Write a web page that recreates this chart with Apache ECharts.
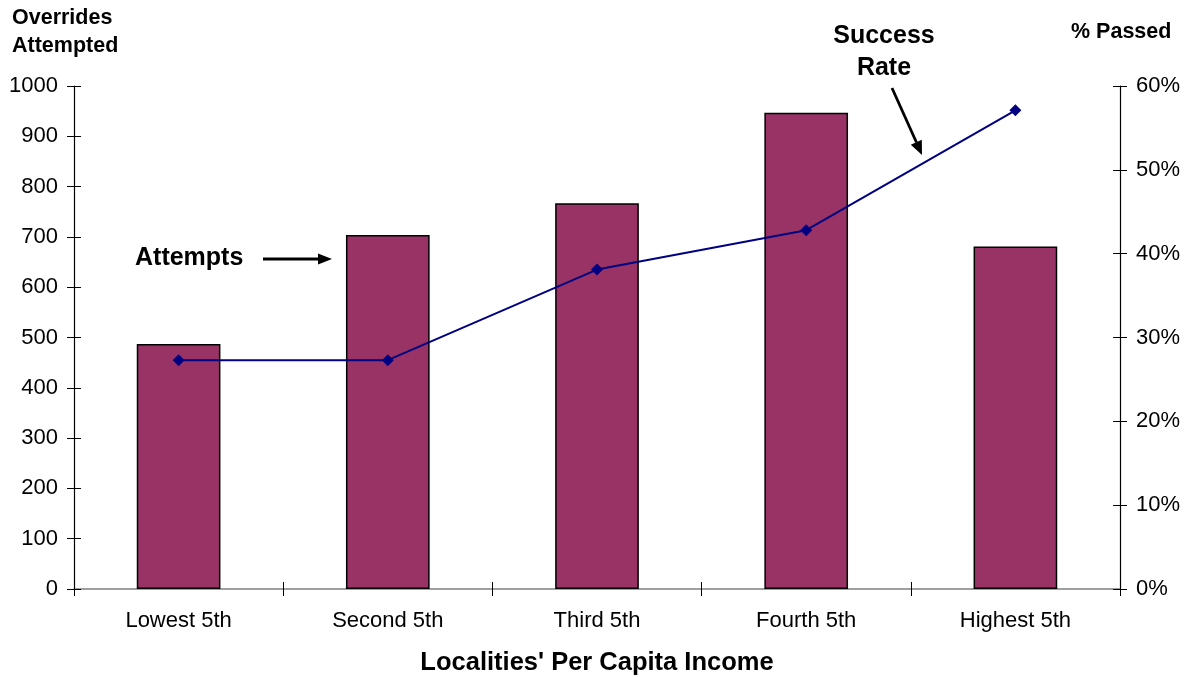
<!DOCTYPE html>
<html>
<head>
<meta charset="utf-8">
<script src="https://cdn.jsdelivr.net/npm/echarts@6/dist/echarts.min.js"></script>
<style>
  html, body { margin: 0; padding: 0; background: #fff; }
  #chart { width: 1190px; height: 677px; }
</style>
</head>
<body>
<div id="chart"></div>
<script>
// Income quintiles of localities
const categories = ['Lowest 5th', 'Second 5th', 'Third 5th', 'Fourth 5th', 'Highest 5th'];
// Overrides attempted (left axis)
const attempts = [487, 704, 767, 947, 681];
// Share of overrides that passed (right axis, fraction)
const successRate = [0.273, 0.273, 0.381, 0.428, 0.571];
// Axis tick settings
const countTicks = { min: 0, max: 1000, interval: 100 };
const rateTicks = { min: 0, max: 0.6, interval: 0.1 };

const FONT = '"Liberation Sans", Arial, Helvetica, sans-serif';
const chart = echarts.init(document.getElementById('chart'), null, { renderer: 'canvas' });

function tickStyle(inside) {
  return { show: true, inside: inside, length: 7, lineStyle: { color: '#000', width: 1 } };
}

chart.setOption({
  animation: false,
  backgroundColor: '#ffffff',
  textStyle: { fontFamily: FONT },
  grid: { left: 74, right: 70, top: 86, bottom: 88, containLabel: false, outerBoundsMode: 'none' },
  xAxis: [
    {
      type: 'category',
      data: categories,
      position: 'bottom',
      name: "Localities' Per Capita Income",
      nameLocation: 'middle',
      nameGap: 61,
      nameTextStyle: { fontSize: 25.5, fontWeight: 'bold', color: '#000', fontFamily: FONT },
      axisLine: { show: true, onZero: false, lineStyle: { color: '#808080', width: 1.5 } },
      axisTick: tickStyle(false),
      axisLabel: { fontSize: 22, color: '#000', margin: 21, fontFamily: FONT },
      splitLine: { show: false }
    },
    {
      type: 'category',
      data: categories,
      position: 'bottom',
      axisLine: { show: false, onZero: false },
      axisTick: tickStyle(true),
      axisLabel: { show: false },
      splitLine: { show: false }
    }
  ],
  yAxis: [
    {
      type: 'value',
      position: 'left',
      min: countTicks.min, max: countTicks.max, interval: countTicks.interval,
      axisLine: { show: true, onZero: false, lineStyle: { color: '#000', width: 1.2 } },
      axisTick: tickStyle(false),
      axisLabel: { fontSize: 22, color: '#000', margin: 16, fontFamily: FONT, formatter: v => String(v) },
      splitLine: { show: false }
    },
    {
      type: 'value',
      position: 'right',
      min: rateTicks.min, max: rateTicks.max, interval: rateTicks.interval,
      axisLine: { show: true, onZero: false, lineStyle: { color: '#000', width: 1.2 } },
      axisTick: tickStyle(false),
      axisLabel: {
        fontSize: 22, color: '#000', margin: 16, fontFamily: FONT,
        formatter: v => Math.round(v * 100) + '%'
      },
      splitLine: { show: false }
    },
    {
      type: 'value',
      position: 'left',
      min: countTicks.min, max: countTicks.max, interval: countTicks.interval,
      axisLine: { show: false, onZero: false },
      axisTick: tickStyle(true),
      axisLabel: { show: false },
      splitLine: { show: false }
    },
    {
      type: 'value',
      position: 'right',
      min: rateTicks.min, max: rateTicks.max, interval: rateTicks.interval,
      axisLine: { show: false, onZero: false },
      axisTick: tickStyle(true),
      axisLabel: { show: false },
      splitLine: { show: false }
    }
  ],
  series: [
    {
      name: 'Attempts',
      type: 'bar',
      xAxisIndex: 0,
      yAxisIndex: 0,
      data: attempts,
      barWidth: '40%',
      itemStyle: { color: '#993366', borderColor: '#000', borderWidth: 1.5 }
    },
    {
      name: 'Success Rate',
      type: 'line',
      xAxisIndex: 0,
      yAxisIndex: 1,
      data: successRate,
      symbol: 'diamond',
      symbolSize: 12,
      lineStyle: { color: '#000080', width: 2 },
      itemStyle: { color: '#000080' },
      z: 5
    }
  ],
  graphic: [
    // Axis titles
    {
      type: 'text', left: 12, top: 4,
      style: {
        text: 'Overrides\nAttempted', font: 'bold 21.5px ' + FONT,
        fill: '#000', lineHeight: 28, align: 'left'
      }
    },
    {
      type: 'text', left: 1071, top: 21,
      style: { text: '% Passed', font: 'bold 21.5px ' + FONT, fill: '#000' }
    },
    // "Attempts" callout
    {
      type: 'text', left: 135, top: 246,
      style: { text: 'Attempts', font: 'bold 25px ' + FONT, fill: '#000' }
    },
    {
      type: 'line',
      shape: { x1: 263, y1: 259, x2: 320, y2: 259 },
      style: { stroke: '#000', lineWidth: 2.8 }
    },
    {
      type: 'polygon',
      shape: { points: [[332, 259], [318, 253.5], [318, 264.5]] },
      style: { fill: '#000' }
    },
    // "Success Rate" callout
    {
      type: 'text', x: 884, y: 20,
      style: {
        text: 'Success\nRate', font: 'bold 25px ' + FONT,
        fill: '#000', lineHeight: 32, align: 'center', verticalAlign: 'top'
      }
    },
    {
      type: 'line',
      shape: { x1: 892, y1: 88, x2: 916.5, y2: 142.5 },
      style: { stroke: '#000', lineWidth: 2.8 }
    },
    {
      type: 'polygon',
      shape: { points: [[922, 155], [921.8, 139.7], [910.8, 144.7]] },
      style: { fill: '#000' }
    }
  ]
});
</script>
</body>
</html>
